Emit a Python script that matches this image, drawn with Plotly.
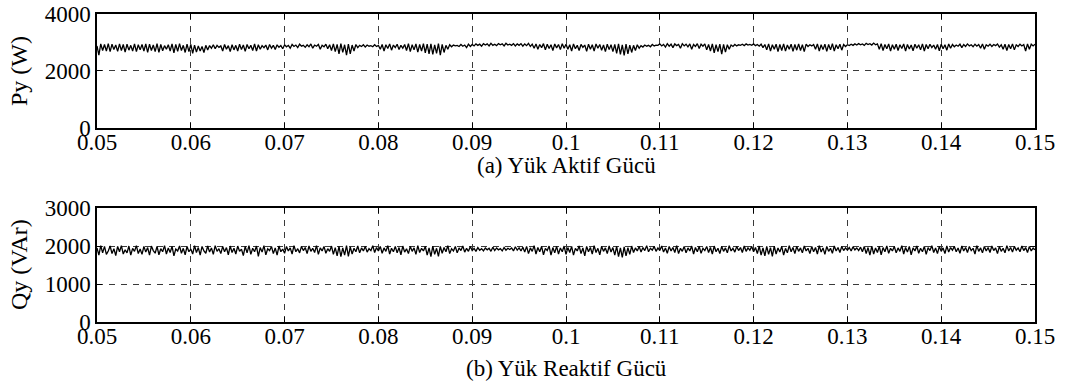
import numpy as np
import plotly.graph_objects as go
from plotly.subplots import make_subplots

# Load active power Py (W), sampled every 0.2 ms from 0.05 s to 0.15 s
py_w = [
    2880, 2560, 2950, 2720, 2930, 2700, 2960, 2680, 2940, 2750, 2910, 2690, 2950, 2720, 2930, 2660, 2940, 2730, 2900, 2700, 2950, 2680, 2920, 2740, 2930,
    2700, 2950, 2650, 2940, 2720, 2910, 2680, 2960, 2650, 2930, 2710, 2890, 2760, 2920, 2700, 2950, 2640, 2930, 2690, 2960, 2720, 2900, 2650, 2940, 2680,
    2930, 2620, 2910, 2660, 2880, 2700, 2860, 2650, 2900, 2740, 2890, 2800, 2920, 2780, 2900, 2830, 2880, 2700, 2930, 2760, 2890, 2680, 2920, 2740, 2900,
    2700, 2940, 2750, 2910, 2690, 2930, 2780, 2900, 2720, 2950, 2700, 2920, 2760, 2890, 2820, 2910, 2740, 2930, 2800, 2900, 2750, 2920, 2830, 2890, 2780,
    2920, 2850, 2900, 2800, 2930, 2860, 2910, 2820, 2940, 2870, 2900, 2830, 2920, 2850, 2950, 2800, 2910, 2870, 2930, 2760, 2900, 2850, 2940, 2780, 2920,
    2720, 2950, 2680, 2930, 2600, 2960, 2650, 2920, 2560, 2940, 2600, 2910, 2700, 2930, 2820, 2900, 2860, 2920, 2840, 2910, 2870, 2890, 2850, 2920, 2860,
    2900, 2760, 2930, 2700, 2920, 2790, 2950, 2730, 2910, 2820, 2940, 2750, 2900, 2800, 2930, 2720, 2960, 2680, 2920, 2740, 2950, 2660, 2930, 2700, 2960,
    2640, 2940, 2600, 2950, 2580, 2920, 2620, 2960, 2560, 2930, 2650, 2900, 2760, 2920, 2850, 2910, 2880, 2900, 2860, 2930, 2870, 2910, 2820, 2940, 2860,
    2930, 2880, 2950, 2900, 2940, 2870, 2960, 2910, 2950, 2880, 2970, 2900, 2940, 2890, 2960, 2920, 2950, 2880, 2970, 2910, 2940, 2900, 2960, 2880, 2950,
    2900, 2960, 2870, 2950, 2890, 2970, 2860, 2940, 2800, 2950, 2760, 2930, 2820, 2960, 2740, 2940, 2790, 2920, 2720, 2950, 2810, 2930, 2750, 2960, 2800,
    2940, 2760, 2920, 2700, 2950, 2780, 2900, 2720, 2930, 2830, 2910, 2690, 2940, 2760, 2920, 2700, 2950, 2800, 2930, 2730, 2910, 2680, 2940, 2750, 2920,
    2680, 2930, 2620, 2950, 2580, 2920, 2550, 2940, 2600, 2910, 2650, 2900, 2720, 2920, 2800, 2890, 2840, 2910, 2870, 2900, 2850, 2930, 2880, 2910, 2900,
    2950, 2880, 2930, 2840, 2960, 2870, 2940, 2820, 2950, 2890, 2930, 2800, 2960, 2880, 2940, 2850, 2950, 2760, 2930, 2860, 2960, 2790, 2940, 2870, 2950,
    2740, 2930, 2700, 2950, 2640, 2920, 2680, 2940, 2590, 2930, 2660, 2920, 2760, 2910, 2860, 2930, 2880, 2920, 2900, 2940, 2890, 2950, 2910, 2930, 2900,
    2950, 2890, 2930, 2870, 2940, 2820, 2930, 2740, 2950, 2700, 2920, 2760, 2940, 2680, 2930, 2720, 2950, 2700, 2910, 2760, 2940, 2690, 2930, 2730, 2950,
    2720, 2920, 2680, 2940, 2860, 2920, 2880, 2930, 2760, 2950, 2700, 2920, 2750, 2940, 2690, 2930, 2740, 2960, 2700, 2920, 2780, 2940, 2730, 2930, 2860,
    2920, 2890, 2940, 2900, 2950, 2910, 2960, 2920, 2950, 2900, 2970, 2930, 2960, 2910, 2980, 2920, 2950, 2760, 2960, 2720, 2930, 2780, 2950, 2700, 2920,
    2760, 2940, 2720, 2920, 2790, 2950, 2700, 2930, 2770, 2910, 2710, 2940, 2800, 2920, 2740, 2950, 2700, 2930, 2780, 2940, 2820, 2910, 2760, 2930, 2710,
    2940, 2780, 2920, 2730, 2950, 2800, 2930, 2850, 2910, 2870, 2940, 2820, 2930, 2860, 2950, 2880, 2920, 2850, 2940, 2870, 2930, 2800, 2950, 2760, 2920,
    2870, 2940, 2860, 2930, 2890, 2950, 2840, 2920, 2760, 2940, 2720, 2930, 2780, 2950, 2740, 2920, 2860, 2940, 2880, 2930, 2700, 2950, 2760, 2940, 2880,
    2940,
]

# Load reactive power Qy (VAr), same sampling
qy_var = [
    1950, 1760, 2010, 1820, 1990, 1780, 1870, 2000, 1800, 1930, 1750, 1990, 1850, 2010, 1790, 1900, 1820, 2000, 1760, 1940, 1860, 2010, 1800, 1920, 1780,
    1990, 1840, 1960, 1760, 2000, 1880, 1810, 1990, 1770, 1930, 1850, 2010, 1790, 1950, 1830, 1990, 1740, 1920, 1870, 2000, 1810, 1940, 1770, 1990, 1850,
    1920, 1790, 2010, 1830, 1960, 1760, 1990, 1870, 1810, 2000, 1840, 1950, 1780, 2010, 1860, 1930, 1800, 1990, 1850, 1960, 1770, 2000, 1830, 1940, 1790,
    2000, 1860, 1920, 1750, 1990, 1820, 2010, 1780, 1940, 1850, 2000, 1730, 1960, 1840, 2010, 1770, 1930, 1880, 1990, 1800, 1950, 1760, 2000, 1850, 1920,
    1810, 1990, 1870, 1950, 1790, 2010, 1850, 1930, 1820, 1990, 1880, 1960, 1800, 2000, 1860, 1940, 1830, 2010, 1780, 1950, 1870, 1990, 1810, 1930, 1860,
    2000, 1780, 1960, 1740, 1990, 1720, 1950, 1760, 2010, 1730, 1980, 1790, 1940, 1850, 2000, 1820, 1950, 1870, 1990, 1840, 1930, 1880, 2010, 1830, 1960,
    1870, 1990, 1810, 1950, 1860, 2010, 1790, 1940, 1850, 1990, 1820, 1960, 1770, 2000, 1840, 1930, 1800, 1990, 1860, 1950, 1780, 2010, 1830, 1940, 1870,
    1990, 1760, 1950, 1720, 2000, 1780, 1940, 1730, 1990, 1810, 1960, 1850, 2010, 1800, 1930, 1870, 1990, 1820, 1950, 1880, 2000, 1840, 1940, 1860, 1990,
    1880, 1940, 1860, 1960, 1890, 1930, 1870, 1950, 1900, 1940, 1860, 1970, 1880, 1950, 1900, 1930, 1870, 1960, 1890, 1940, 1910, 1950, 1870, 1980, 1890,
    1950, 1870, 1970, 1840, 1990, 1800, 1950, 1860, 2010, 1790, 1960, 1850, 1990, 1770, 1940, 1880, 2000, 1760, 1960, 1820, 1990, 1790, 1950, 1850, 2000,
    1780, 1960, 1830, 1990, 1760, 1940, 1870, 2000, 1800, 1950, 1740, 1990, 1850, 1960, 1790, 2010, 1830, 1940, 1770, 1990, 1860, 1950, 1800, 2000, 1840,
    1960, 1760, 1990, 1720, 1950, 1700, 1980, 1740, 1960, 1780, 2000, 1830, 1950, 1870, 1990, 1840, 1960, 1880, 2010, 1850, 1940, 1890, 1990, 1860, 1950,
    1880, 2000, 1840, 1950, 1810, 1990, 1870, 1960, 1830, 2010, 1800, 1940, 1860, 1990, 1820, 1950, 1870, 2000, 1790, 1960, 1850, 1990, 1810, 1940, 1880,
    1990, 1830, 1960, 1790, 2000, 1850, 1940, 1800, 1990, 1860, 1950, 1820, 2010, 1870, 1940, 1840, 1990, 1880, 1960, 1830, 2000, 1860, 1950, 1890, 1990,
    1850, 1960, 1800, 2000, 1760, 1950, 1740, 1990, 1780, 1960, 1730, 2000, 1790, 1950, 1840, 1990, 1760, 1940, 1820, 2010, 1850, 1960, 1800, 1990, 1860,
    1950, 1820, 2000, 1870, 1940, 1800, 1990, 1850, 1960, 1790, 2010, 1840, 1950, 1780, 1990, 1860, 1940, 1810, 2000, 1870, 1960, 1830, 1990, 1880, 1950,
    1890, 1960, 1870, 1980, 1900, 1950, 1880, 1970, 1850, 1990, 1800, 1960, 1760, 2000, 1790, 1950, 1830, 1990, 1770, 1960, 1850, 2000, 1810, 1940, 1870,
    1990, 1820, 1950, 1860, 2010, 1790, 1960, 1840, 1990, 1770, 1950, 1870, 2000, 1810, 1940, 1850, 1990, 1780, 1960, 1880, 2010, 1830, 1950, 1800, 1990,
    1860, 1950, 1800, 2000, 1840, 1960, 1890, 1990, 1850, 1950, 1810, 2000, 1870, 1960, 1830, 1990, 1880, 1940, 1790, 2010, 1860, 1950, 1820, 1990, 1870,
    1960, 1830, 2000, 1880, 1950, 1800, 1990, 1860, 1940, 1820, 2010, 1870, 1960, 1840, 1990, 1890, 1950, 1850, 2000, 1880, 1960, 1830, 1990, 1870, 1950,
    1900,
]

x_ticks = [0.05, 0.06, 0.07, 0.08, 0.09, 0.10, 0.11, 0.12, 0.13, 0.14, 0.15]
x_tick_text = ["0.05", "0.06", "0.07", "0.08", "0.09", "0.1", "0.11", "0.12", "0.13", "0.14", "0.15"]
py_ticks = [0, 2000, 4000]
qy_ticks = [0, 1000, 2000, 3000]

t_py = np.linspace(0.05, 0.15, len(py_w))
t_qy = np.linspace(0.05, 0.15, len(qy_var))

FONT = "Liberation Serif"
FS = 23

fig = make_subplots(rows=2, cols=1, vertical_spacing=0.0)
fig.add_trace(go.Scatter(x=t_py, y=py_w, mode="lines",
                         line=dict(color="black", width=1.3)), row=1, col=1)
fig.add_trace(go.Scatter(x=t_qy, y=qy_var, mode="lines",
                         line=dict(color="black", width=1.3)), row=2, col=1)

axis_common = dict(
    showline=True, linecolor="black", linewidth=1.5, mirror="ticks",
    ticks="inside", ticklen=5, tickwidth=1, tickcolor="black",
    showgrid=True, gridcolor="#3a3a3a", gridwidth=1, griddash="6px,6px",
    zeroline=False, automargin=False,
    tickfont=dict(family=FONT, size=FS, color="black"),
)

for r in (1, 2):
    fig.update_xaxes(range=[0.05, 0.15], tickvals=x_ticks, ticktext=x_tick_text,
                     ticklabelstandoff=-7, row=r, col=1, **axis_common)
fig.update_yaxes(range=[0, 4000], tickvals=py_ticks, row=1, col=1, **axis_common)
fig.update_yaxes(range=[0, 3000], tickvals=qy_ticks, row=2, col=1, **axis_common)

fig.update_layout(
    xaxis=dict(domain=[0, 1]), yaxis=dict(domain=[0.63, 1.0]),
    xaxis2=dict(domain=[0, 1]), yaxis2=dict(domain=[0.0, 0.37]),
)

# plot area: 938 px wide starting at x=97, 308 px tall starting at y=14
ytitle_x = (19 - 97) / 938.0
annotations = [
    dict(text="(a) Yük Aktif Gücü", x=0.5, y=0.5065, xref="paper", yref="paper",
         showarrow=False, font=dict(family=FONT, size=FS, color="black"),
         xanchor="center", yanchor="middle"),
    dict(text="(b) Yük Reaktif Gücü", x=0.5, y=-0.152, xref="paper", yref="paper",
         showarrow=False, font=dict(family=FONT, size=FS, color="black"),
         xanchor="center", yanchor="middle"),
    dict(text="Py (W)", x=ytitle_x, y=0.815, xref="paper", yref="paper",
         showarrow=False, textangle=-90, font=dict(family=FONT, size=FS + 1, color="black"),
         xanchor="center", yanchor="middle"),
    dict(text="Qy (VAr)", x=ytitle_x, y=0.185, xref="paper", yref="paper",
         showarrow=False, textangle=-90, font=dict(family=FONT, size=FS + 1, color="black"),
         xanchor="center", yanchor="middle"),
]

fig.update_layout(
    width=1065, height=385,
    margin=dict(l=97, r=30, t=14, b=63, autoexpand=False),
    paper_bgcolor="white", plot_bgcolor="white",
    showlegend=False, annotations=annotations,
)

fig.write_html("out.html")
